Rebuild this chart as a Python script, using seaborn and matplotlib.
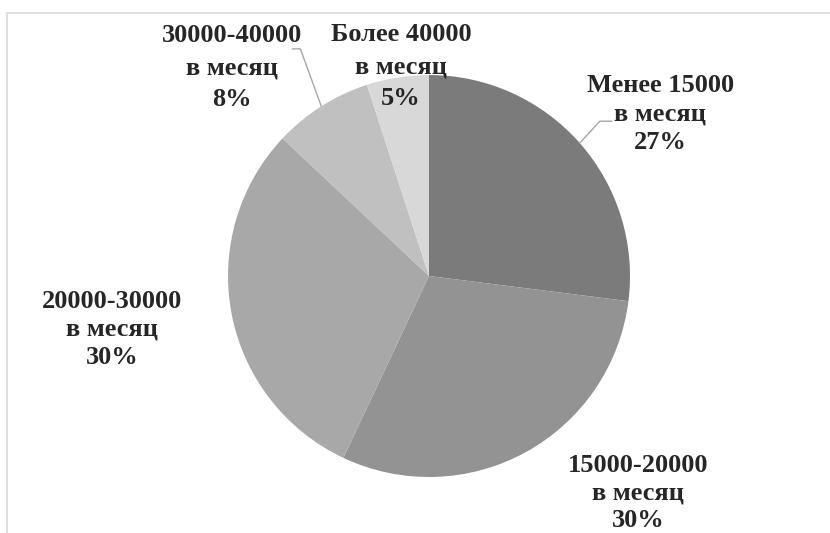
import numpy as np
import matplotlib
matplotlib.use("Agg")
import matplotlib.pyplot as plt
from matplotlib.lines import Line2D
import seaborn as sns

# data
categories = ["Менее 15000", "15000-20000", "20000-30000", "30000-40000", "Более 40000"]
shares = [27, 30, 30, 8, 5]
colors = ["#7b7b7b", "#939393", "#a8a8a8", "#c0c0c0", "#d8d8d8"]

# label centres (axes data units, pie radius = 1) and line spacing
label_pos = [(1.15, 0.805), (1.04, -1.08), (-1.575, -0.265), (-0.98, 1.035), (-0.14, 1.04)]
label_spacing = [1.29, 1.25, 1.29, 1.5, 1.5]
# elbow of leader line, or None
elbows = [((0.85, 0.77), (0.91, 0.77)), None, None, ((-0.64, 1.13), (-0.68, 1.13)), None]

sns.set_theme(style="white")
plt.rcParams["font.family"] = ["Liberation Serif", "DejaVu Serif"]

W, H = 830, 533
cx, cy, r = 429, 276, 201
fig = plt.figure(figsize=(W / 100, H / 100), dpi=100)
ax = fig.add_axes([(cx - r) / W, (H - cy - r) / H, 2 * r / W, 2 * r / H])

wedges, _ = ax.pie(shares, colors=colors, startangle=90, counterclock=False,
                   radius=1, wedgeprops=dict(linewidth=0))
ax.set_xlim(-1, 1)
ax.set_ylim(-1, 1)
ax.set_aspect("equal")
ax.axis("off")

for w, cat, val, pos, ls, elb in zip(wedges, categories, shares, label_pos,
                                     label_spacing, elbows):
    ax.text(pos[0], pos[1], f"{cat}\nв месяц\n{val}%", ha="center", va="center",
            fontsize=19, fontweight="bold", linespacing=ls, clip_on=False)
    if elb is not None:
        mid = np.deg2rad((w.theta1 + w.theta2) / 2)
        xs = [np.cos(mid), elb[0][0], elb[1][0]]
        ys = [np.sin(mid), elb[0][1], elb[1][1]]
        ax.plot(xs, ys, color="#a6a6a6", lw=1, clip_on=False)

# chart frame (top and left edges visible)
fig.add_artist(Line2D([7 / W, 1], [1 - 12.5 / H, 1 - 12.5 / H], color="#d9d9d9", lw=1.2))
fig.add_artist(Line2D([7 / W, 7 / W], [0, 1 - 12.5 / H], color="#d9d9d9", lw=1.2))

fig.savefig("out.png", dpi=100)
plt.close(fig)
